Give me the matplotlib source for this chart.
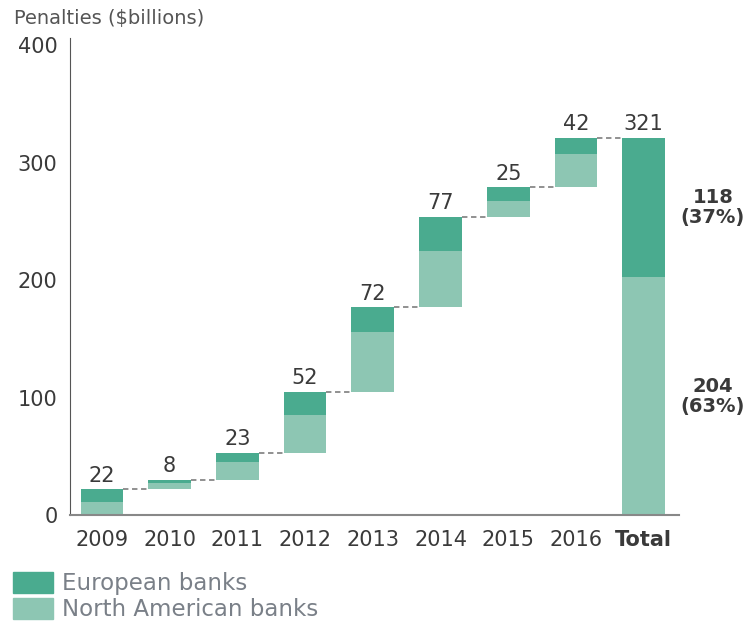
import matplotlib.pyplot as plt
from matplotlib.patches import Patch

# penalties by year, split european / north american ($bn)
years = ['2009', '2010', '2011', '2012', '2013', '2014', '2015', '2016']
european = [11, 3, 8, 20, 21, 29, 12, 14]
north_american = [11, 5, 15, 32, 51, 48, 13, 28]
totals = [22, 8, 23, 52, 72, 77, 25, 42]
total_label = '321'
eu_label = '118\n(37%)'
na_label = '204\n(63%)'

dark = '#4aab8f'
light = '#8dc6b3'
txt = '#3a3a3a'

plt.rcParams['font.family'] = ['DejaVu Sans']

fig = plt.figure(figsize=(7.49, 6.25), dpi=100)
ax = fig.add_axes([0.0935, 0.176, 0.813, 0.763])

w = 0.63
base = 0
for i in range(len(years)):
    ax.bar(i, north_american[i], w, bottom=base, color=light)
    ax.bar(i, european[i], w, bottom=base + north_american[i], color=dark)
    top = base + totals[i]
    ax.text(i, top + 3, str(totals[i]), ha='center', va='bottom', fontsize=15, color=txt)
    # dashed connector to the next bar
    ax.plot([i + w / 2, i + 1 - w / 2], [top, top], ls=(0, (3, 2)), color='#888888', lw=1.3)
    base = top

n = len(years)
eu_sum = sum(european)
na_sum = sum(north_american)
ax.bar(n, na_sum, w, color=light)
ax.bar(n, eu_sum, w, bottom=na_sum, color=dark)
ax.text(n, na_sum + eu_sum + 3, total_label, ha='center', va='bottom', fontsize=15, color=txt)
ax.text(n + 1.02, na_sum + eu_sum / 2, eu_label, ha='center', va='center', fontsize=14,
        color=txt, fontweight='bold', linespacing=1.05)
ax.text(n + 1.02, 101, na_label, ha='center', va='center', fontsize=14,
        color=txt, fontweight='bold', linespacing=1.05)

ax.set_xlim(-0.47, n + 0.52)
ax.set_ylim(0, 406)
ax.set_yticks([0, 100, 200, 300, 400])
ax.set_xticks(range(n + 1))
ax.set_xticklabels(years + ['Total'])
ax.get_xticklabels()[-1].set_fontweight('bold')
ax.tick_params(length=0, labelsize=15, colors=txt)
ax.tick_params(axis='y', pad=9)
ax.tick_params(axis='x', pad=11)
for s in ['top', 'right']:
    ax.spines[s].set_visible(False)
ax.spines['left'].set_color('#555555')
ax.spines['bottom'].set_color('#888888')
ax.spines['bottom'].set_linewidth(1.5)

fig.text(0.019, 0.971, 'Penalties ($billions)', fontsize=14, color='#555555', va='center')

handles = [Patch(color=dark), Patch(color=light)]
fig.legend(handles, ['European banks', 'North American banks'], loc='upper left',
           bbox_to_anchor=(13 / 749, 1 - 572 / 625), frameon=False, fontsize=16.5,
           labelcolor='#7a8088', borderpad=0, borderaxespad=0,
           handlelength=1.75, handleheight=1.05, labelspacing=0.1, handletextpad=0.4)

fig.savefig('out.png', dpi=100)
